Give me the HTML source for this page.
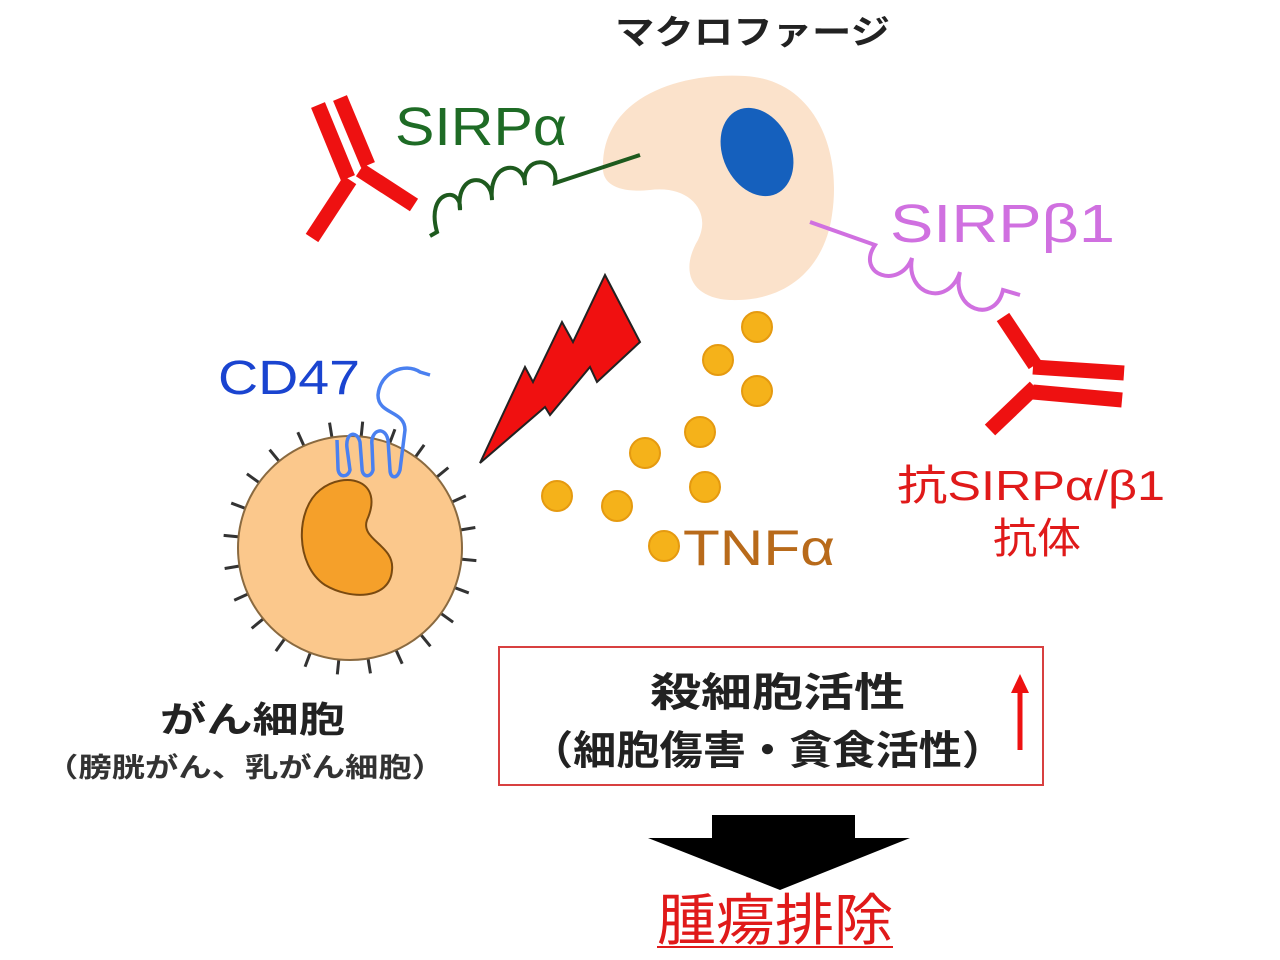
<!DOCTYPE html>
<html><head><meta charset="utf-8"><style>
html,body{margin:0;padding:0;background:#fff;}
svg{display:block}
text{font-family:"Liberation Sans","Noto Sans CJK JP",sans-serif;}
</style></head><body>
<svg id="s" width="1280" height="960" viewBox="0 0 1280 960" xmlns="http://www.w3.org/2000/svg">
<rect width="1280" height="960" fill="#fff"/>
<text x="615" y="44" font-size="34" textLength="275" lengthAdjust="spacingAndGlyphs" fill="#222" font-weight="bold">マクロファージ</text>
<!-- macrophage -->
<path d="M603,170 C600,100 675,72 745,76 C815,80 842,150 832,215 C825,265 790,302 730,300 C690,298 680,270 698,240 C712,212 690,185 650,190 C620,193 604,185 603,170 Z" fill="#fbe2cb"/>
<ellipse cx="757" cy="152" rx="34" ry="46" transform="rotate(-25 757 152)" fill="#1560bd"/>
<!-- SIRPa -->
<text x="395" y="145" font-size="54" textLength="172" lengthAdjust="spacingAndGlyphs" fill="#1e6b25">SIRPα</text>
<path d="M640,155 L555,183 C560,155 520,155 525,185 C525,160 488,160 492,200 C492,172 455,172 460,210 C462,185 425,190 437,232 L430,236" fill="none" stroke="#1e5a1e" stroke-width="4"/>
<!-- left antibody -->
<g stroke="#ee1111" stroke-width="15" fill="none" stroke-linecap="butt">
<line x1="318" y1="105" x2="348" y2="178"/>
<line x1="340" y1="98" x2="368" y2="165"/>
<line x1="360" y1="170" x2="414" y2="205"/>
<line x1="350" y1="180" x2="312" y2="238"/>
</g>
<!-- SIRPb1 -->
<text x="890" y="242" font-size="54" textLength="225" lengthAdjust="spacingAndGlyphs" fill="#d070e0">SIRPβ1</text>
<path d="M810,222 L875,245 C855,275 900,290 912,258 C905,295 948,308 960,272 C950,310 995,325 1003,290 L1020,295" fill="none" stroke="#d070e0" stroke-width="4"/>
<g stroke="#ee1111" stroke-width="15" fill="none">
<line x1="1003" y1="317" x2="1035" y2="365"/>
<line x1="1033" y1="367" x2="1124" y2="373"/>
<line x1="1033" y1="392" x2="1122" y2="400"/>
<line x1="1035" y1="387" x2="990" y2="430"/>
</g>
<text x="897" y="500" font-size="42" textLength="268" lengthAdjust="spacingAndGlyphs" fill="#e01a1a">抗SIRPα/β1</text>
<text x="993" y="553" font-size="42" textLength="88" lengthAdjust="spacingAndGlyphs" fill="#e01a1a">抗体</text>
<!-- lightning -->
<polygon points="605,275 640,342 597,382 590,367 550,415 545,407 480,463 525,367 533,382 562,322 573,342" fill="#f01010" stroke="#222" stroke-width="2"/>
<!-- TNF dots -->
<g fill="#f5b21a" stroke="#e59a10" stroke-width="2">
<circle cx="757" cy="327" r="15"/><circle cx="718" cy="360" r="15"/><circle cx="757" cy="391" r="15"/>
<circle cx="700" cy="432" r="15"/><circle cx="645" cy="453" r="15"/><circle cx="705" cy="487" r="15"/>
<circle cx="557" cy="496" r="15"/><circle cx="617" cy="506" r="15"/><circle cx="664" cy="546" r="15"/>
</g>
<text x="683" y="565" font-size="50" textLength="152" lengthAdjust="spacingAndGlyphs" fill="#b86a1a">TNFα</text>
<!-- cancer cell -->
<g id="spikes" stroke="#333" stroke-width="3"></g>
<circle cx="350" cy="548" r="112" fill="#fbc88c" stroke="#8a6a40" stroke-width="2"/>
<path d="M320,490 C345,470 385,480 367,520 C360,540 395,545 392,570 C390,600 350,600 325,585 C295,565 295,510 320,490 Z" fill="#f5a02a" stroke="#7a4a10" stroke-width="2"/>
<text x="218" y="394" font-size="48" textLength="142" lengthAdjust="spacingAndGlyphs" fill="#1a44d0">CD47</text>
<path d="M430,375 L420,372 C405,362 380,372 378,395 C378,415 405,410 405,430 L400,470 C397,480 390,478 390,470 L388,440 C385,425 370,430 372,445 L373,470 C371,478 362,478 362,468 L360,442 C357,430 345,432 347,448 L350,470 C348,478 338,478 338,468 L337,440" fill="none" stroke="#4a80f0" stroke-width="3.5"/>
<text x="160" y="732" font-size="36" textLength="185" lengthAdjust="spacingAndGlyphs" fill="#222" font-weight="bold">がん細胞</text>
<text x="45" y="777" font-size="27" textLength="400" lengthAdjust="spacingAndGlyphs" fill="#333" font-weight="bold">（膀胱がん、乳がん細胞）</text>
<!-- box -->
<rect x="499" y="647" width="544" height="138" fill="none" stroke="#d84040" stroke-width="2"/>
<text x="650" y="706" font-size="40" textLength="255" lengthAdjust="spacingAndGlyphs" fill="#222" font-weight="bold">殺細胞活性</text>
<text x="530" y="764" font-size="40" textLength="475" lengthAdjust="spacingAndGlyphs" fill="#222" font-weight="bold">（細胞傷害・貪食活性）</text>
<line x1="1020" y1="750" x2="1020" y2="690" stroke="#ee1111" stroke-width="5"/>
<polygon points="1011,693 1029,693 1020,674" fill="#ee1111"/>
<!-- arrow -->
<polygon points="712,815 855,815 855,838 910,838 780,890 648,838 712,838" fill="#000"/>
<text x="657" y="940" font-size="56" textLength="236" lengthAdjust="spacingAndGlyphs" fill="#e01a1a">腫瘍排除</text>
<line x1="657" y1="947" x2="893" y2="947" stroke="#e01a1a" stroke-width="2"/>
</svg>
<script>
var g=document.getElementById('spikes'),s='';
for(var i=0;i<24;i++){var a=i*2*Math.PI/24+0.1;var c=Math.cos(a),d=Math.sin(a);
s+='<line x1="'+(350+105*c)+'" y1="'+(548+105*d)+'" x2="'+(350+127*c)+'" y2="'+(548+127*d)+'"/>';}
g.innerHTML=s;
</script>
</body></html>
